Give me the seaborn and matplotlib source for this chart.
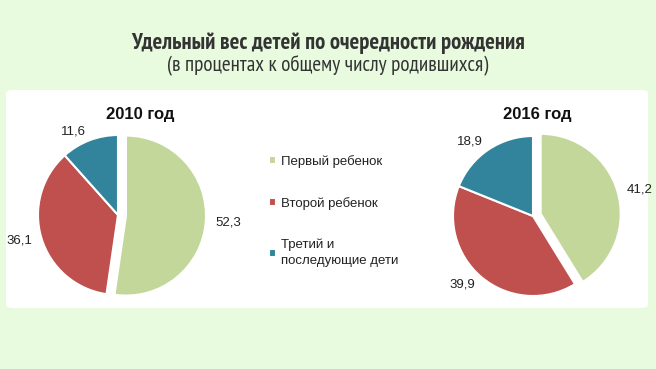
import numpy as np
import pandas as pd
import seaborn as sns
import matplotlib.pyplot as plt
from matplotlib.patches import FancyBboxPatch

# Data
categories = ['Первый ребенок', 'Второй ребенок', 'Третий и\nпоследующие дети']
years = ['2010 год', '2016 год']
share_2010 = [52.3, 36.1, 11.6]
share_2016 = [41.2, 39.9, 18.9]

colors = ['#c4d79b', '#c0504d', '#31849b']
bg = '#e8fbdf'

sns.set_style('white')
plt.rcParams['font.family'] = ['Liberation Sans', 'DejaVu Sans']
narrow = ['PT Sans Narrow', 'Roboto Condensed', 'DejaVu Sans']

W, H = 656, 369
fig = plt.figure(figsize=(W / 100, H / 100), dpi=100, facecolor=bg)

# white panel behind the pies
panel = FancyBboxPatch((6 / W, (H - 308) / H), 642 / W, 218 / H,
                       boxstyle='round,pad=0,rounding_size=0.01',
                       transform=fig.transFigure, facecolor='white',
                       edgecolor='none', zorder=-5)
fig.patches.append(panel)

fig.text(0.5, 1 - 43 / H, 'Удельный вес детей по очередности рождения',
         ha='center', va='center', fontsize=16.3, fontweight='bold',
         family=narrow, color='#333333')
fig.text(0.5, 1 - 66 / H, '(в процентах к общему числу родившихся)',
         ha='center', va='center', fontsize=15.2, family=narrow, color='#333333')


def draw_pie(cx, cy, values, title, title_x):
    size = 200
    ax = fig.add_axes([(cx - size / 2) / W, (H - cy - size / 2) / H, size / W, size / H])
    ax.set_zorder(2)
    labels = [f'{v:.1f}'.replace('.', ',') for v in values]
    wedges, texts = ax.pie(values, labels=labels, colors=colors, startangle=90,
                           counterclock=False, explode=[0.1, 0, 0],
                           labeldistance=1.12,
                           wedgeprops=dict(edgecolor='white', linewidth=1.5),
                           textprops=dict(fontsize=9.5, color='#222222'))
    ax.set_xlim(-1.25, 1.25)
    ax.set_ylim(-1.25, 1.25)
    ax.set_aspect('equal')
    ax.axis('off')
    fig.text(title_x / W, 1 - 114 / H, title, ha='center', va='center',
             fontsize=12, fontweight='bold', color='#111111')
    return wedges


wedges = draw_pie(118, 215, share_2010, years[0], 140)
draw_pie(533, 216, share_2016, years[1], 537)

leg = fig.legend(wedges, categories, loc='upper left',
                 bbox_to_anchor=(257 / W, 1 - 143 / H),
                 frameon=False, fontsize=9.5, handlelength=0.55, handleheight=0.55,
                 handletextpad=0.35, labelspacing=2.2, labelcolor='#222222')
for t in leg.get_texts():
    t.set_linespacing(1.45)

fig.savefig('out.png', dpi=100, facecolor=bg)
